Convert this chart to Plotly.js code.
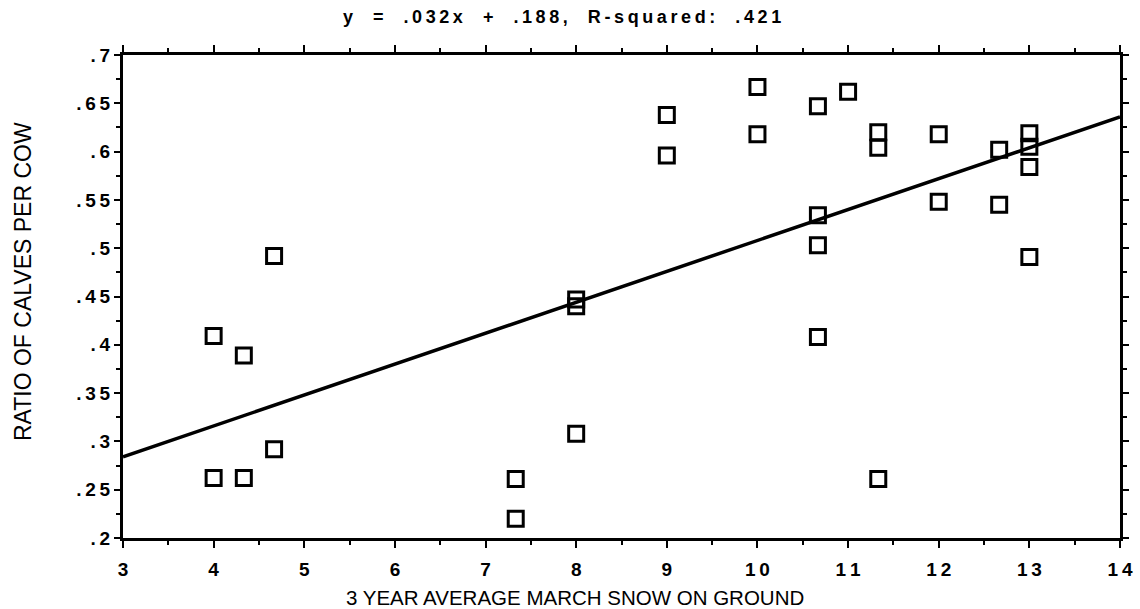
<!DOCTYPE html>
<html>
<head>
<meta charset="utf-8">
<script src="https://cdn.plot.ly/plotly-3.0.1.min.js"></script>
<style>
  html, body { margin: 0; padding: 0; background: #fff; }
  #chart { width: 1140px; height: 609px; }
</style>
</head>
<body>
<div id="chart"></div>
<script>
// ---- data ----
const snowX = [4, 4, 4.333, 4.333, 4.667, 4.667, 7.333, 7.333, 8, 8, 8, 9, 9, 10, 10,
               10.667, 10.667, 10.667, 10.667, 11, 11.333, 11.333, 11.333, 12, 12,
               12.667, 12.667, 13, 13, 13, 13];
const calvesY = [0.409, 0.262, 0.389, 0.262, 0.492, 0.292, 0.261, 0.220, 0.447, 0.440, 0.308,
                 0.638, 0.596, 0.667, 0.618, 0.647, 0.534, 0.503, 0.408, 0.662, 0.620, 0.604,
                 0.261, 0.618, 0.548, 0.602, 0.545, 0.619, 0.605, 0.584, 0.491];
const slope = 0.032;
const intercept = 0.188;
const fitX = [3, 14];

const xTickVals = [3, 4, 5, 6, 7, 8, 9, 10, 11, 12, 13, 14];
const xTickLabels = ['3', '4', '5', '6', '7', '8', '9', '10', '11', '12', '13', '14'];
const yTickVals = [0.2, 0.25, 0.3, 0.35, 0.4, 0.45, 0.5, 0.55, 0.6, 0.65, 0.7];
const yTickLabels = ['.2', '.25', '.3', '.35', '.4', '.45', '.5', '.55', '.6', '.65', '.7'];

const titleParts = ['y', '=', '.032x', '+', '.188,', 'R-squared:', '.421'];
const xTitle = '3 YEAR AVERAGE MARCH SNOW ON GROUND';
const yTitle = 'RATIO OF CALVES PER COW';

// ---- helpers ----
const spaced = s => s.split('').join('\u2009');
const gap = '\u00a0\u00a0\u00a0\u00a0';

const traces = [
  {
    x: fitX,
    y: fitX.map(v => slope * v + intercept),
    mode: 'lines',
    line: { color: '#000', width: 3.5 },
    hoverinfo: 'skip'
  },
  {
    x: snowX,
    y: calvesY,
    mode: 'markers',
    marker: { symbol: 'square-open', size: 15, color: '#000', line: { width: 3, color: '#000' } }
  }
];

const tickFont = { family: 'Liberation Sans, Arial, sans-serif', size: 19, color: '#000', weight: 'bold' };
const labelFont = { family: 'Liberation Sans, Arial, sans-serif', color: '#000' };

const layout = {
  width: 1140,
  height: 609,
  paper_bgcolor: '#fff',
  plot_bgcolor: '#fff',
  showlegend: false,
  margin: { l: 123, r: 20, t: 55, b: 71, pad: 0 },
  title: {
    text: titleParts.map(spaced).join(gap),
    x: 0.493,
    xanchor: 'center',
    y: 0.972,
    yanchor: 'middle',
    font: { family: 'Liberation Sans, Arial, sans-serif', size: 18, color: '#000', weight: 'bold' }
  },
  xaxis: {
    range: [3, 14],
    tickmode: 'array',
    tickvals: xTickVals,
    ticktext: xTickLabels.map(spaced),
    tickfont: tickFont,
    ticks: 'outside',
    ticklen: 7,
    tickwidth: 2,
    tickcolor: '#000',
    ticklabelstandoff: 5,
    minor: { dtick: 0.5, tick0: 3, ticks: 'outside', ticklen: 4, tickwidth: 2, tickcolor: '#000', showgrid: false },
    showline: true,
    linewidth: 3,
    linecolor: '#000',
    mirror: 'ticks',
    showgrid: false,
    zeroline: false
  },
  yaxis: {
    range: [0.2, 0.7],
    tickmode: 'array',
    tickvals: yTickVals,
    ticktext: yTickLabels.map(spaced),
    tickfont: tickFont,
    ticks: 'outside',
    ticklen: 6,
    tickwidth: 2,
    tickcolor: '#000',
    minor: { dtick: 0.025, tick0: 0.2, ticks: 'outside', ticklen: 4, tickwidth: 2, tickcolor: '#000', showgrid: false },
    showline: true,
    linewidth: 3,
    linecolor: '#000',
    mirror: 'ticks',
    showgrid: false,
    zeroline: false
  },
  annotations: [
    {
      text: xTitle,
      xref: 'paper', yref: 'paper',
      x: 0.4534, y: -0.124,
      xanchor: 'center', yanchor: 'middle',
      showarrow: false,
      font: Object.assign({ size: 20.5 }, labelFont)
    },
    {
      text: yTitle,
      xref: 'paper', yref: 'paper',
      x: -0.1003, y: 0.530,
      xanchor: 'center', yanchor: 'middle',
      textangle: -90,
      showarrow: false,
      font: Object.assign({ size: 23 }, labelFont)
    }
  ]
};

Plotly.newPlot('chart', traces, layout, { displayModeBar: false, staticPlot: true });
</script>
</body>
</html>
